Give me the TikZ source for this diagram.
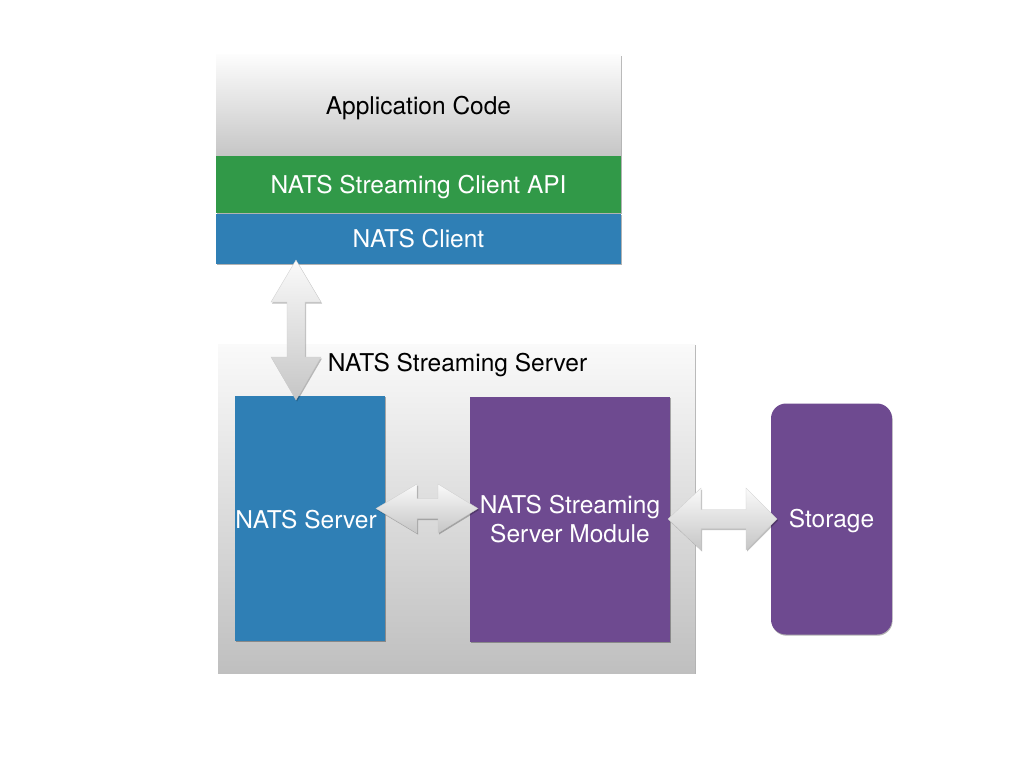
\documentclass[tikz,border=0pt]{standalone}
\usepackage{fontspec}
\setmainfont{TeX Gyre Heros}
\usetikzlibrary{shadows}
\definecolor{natsblue}{RGB}{47,127,181}
\definecolor{natsgreen}{RGB}{49,153,72}
\definecolor{natspurple}{RGB}{110,74,144}
\begin{document}
\begin{tikzpicture}[x=1pt,y=-1pt,
  lbl/.style={font=\fontsize{24.5}{29}\selectfont},
  one/.style={text height=17.6pt,text depth=0pt},
  soft/.style={drop shadow={shadow xshift=0.6pt,shadow yshift=-1.2pt,opacity=0.3,fill=black}},
  flat/.style={draw=none,inner sep=0pt,outer sep=0pt},
  fatarrow/.style={top color=white!96!gray,bottom color=gray!45,draw=gray!40,line width=0.3pt,
     drop shadow={shadow xshift=1pt,shadow yshift=-1.5pt,opacity=0.25,fill=black}}]
\useasboundingbox (0,0) rectangle (1024,768);
\fill[white] (0,0) rectangle (1024,768);
% client stack
\node[flat,soft,minimum width=405pt,minimum height=101pt,top color=white!98!gray,bottom color=gray!45,lbl,one,text=black] (app) at (418.5,105.5) {Application Code};
\node[flat,soft,minimum width=405pt,minimum height=57pt,fill=natsgreen,lbl,one,text=white] (api) at (418.5,184.5) {NATS Streaming Client API};
\node[flat,soft,minimum width=405pt,minimum height=50pt,fill=natsblue,lbl,one,text=white] (client) at (418.5,239) {NATS Client};
% server container
\node[flat,soft,minimum width=477pt,minimum height=329pt,top color=white!96!gray,bottom color=gray!50] (server) at (456.5,508.5) {};
\node[lbl,one,text=black,inner sep=0pt] (serverlbl) at (457.5,363) {NATS Streaming Server};
\node[flat,soft,minimum width=150pt,minimum height=245pt,fill=natsblue] (nats) at (310,518.5) {};
\node[lbl,one,text=white,inner sep=0pt] (natslbl) at (306,520) {NATS Server};
\node[flat,soft,minimum width=200pt,minimum height=245pt,fill=natspurple,lbl,text=white,align=center] (module) at (570,519) {NATS Streaming\\Server Module};
\node[flat,soft,minimum width=121pt,minimum height=231pt,fill=natspurple,rounded corners=15pt,lbl,one,text=white] (storage) at (831.5,519) {Storage};
% connectors (fat double arrows)
\coordinate (v1) at (296,260);
\coordinate (v2) at (296,400);
\path[fatarrow] (v1) -- ++(25,42) -- ++(-16,0) -- ++(0,55) -- ++(16,0) -- (v2) -- ++(-25,-43) -- ++(16,0) -- ++(0,-55) -- ++(-16,0) -- cycle;
\coordinate (h1) at (376,508.5);
\coordinate (h2) at (478,508.5);
\path[fatarrow] (h1) -- ++(41,-24.5) -- ++(0,14.5) -- ++(21,0) -- ++(0,-14.5) -- (h2) -- ++(-40,24.5) -- ++(0,-14.5) -- ++(-21,0) -- ++(0,14.5) -- cycle;
\coordinate (s1) at (668,519);
\coordinate (s2) at (777,519);
\path[fatarrow] (s1) -- ++(33,-31) -- ++(0,21.5) -- ++(45,0) -- ++(0,-21.5) -- (s2) -- ++(-31,31) -- ++(0,-21.5) -- ++(-45,0) -- ++(0,21.5) -- cycle;
\end{tikzpicture}
\end{document}
